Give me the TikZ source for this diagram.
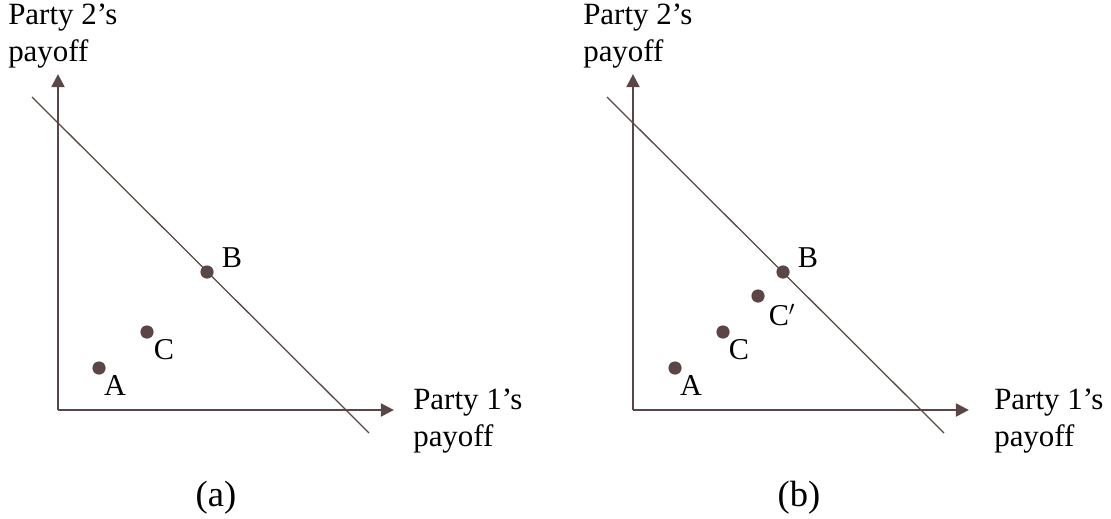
\documentclass[tikz,border=0pt]{standalone}
\usepackage{fontspec}
\setmainfont{Liberation Serif}
\usetikzlibrary{positioning, arrows.meta}
\definecolor{axisbrown}{RGB}{90,70,70}

\begin{document}
\begin{tikzpicture}[
    x=0.025cm, y=-0.025cm,
    axis/.style={draw=axisbrown, line width=2.1pt, -{Triangle[length=0.33cm, width=0.32cm]}},
    budget/.style={draw=axisbrown, line width=0.9pt},
    dot/.style={circle, fill=axisbrown, inner sep=0pt, minimum size=0.33cm},
    lbl/.style={inner sep=0pt, font=\fontsize{21.5}{26}\selectfont},
    axlbl/.style={inner sep=0pt, align=left, anchor=north west, font=\fontsize{22}{26}\selectfont},
    caption/.style={inner sep=0pt, font=\fontsize{26}{30}\selectfont}
]
\useasboundingbox (0,0) rectangle (1111,519);

% Panel (a)
\coordinate (oa) at (58,410);
\coordinate (ya) at (58,74);
\coordinate (xa) at (394,410);
\draw[axis] (oa) -- (ya);
\draw[axis] (oa) -- (xa);
\coordinate (la1) at (32,97);
\coordinate (la2) at (369,433);
\draw[budget] (la1) -- (la2);
\node[axlbl] (ya label) at (8,4) {Party 2’s\\payoff};
\node[axlbl] (xa label) at (413,389) {Party 1’s\\payoff};
\node[dot] (Aa) at (99,368) {};
\node[dot] (Ca) at (147,332) {};
\node[dot] (Ba) at (207,272) {};
\node[lbl] (Aa label) at (115,386) {A};
\node[lbl] (Ca label) at (164,350) {C};
\node[lbl] (Ba label) at (232,258) {B};
\node[caption] (cap a) at (216,498) {(a)};

% Panel (b)
\coordinate (ob) at (633,410);
\coordinate (yb) at (633,74);
\coordinate (xb) at (969,410);
\draw[axis] (ob) -- (yb);
\draw[axis] (ob) -- (xb);
\coordinate (lb1) at (607,97);
\coordinate (lb2) at (944,433);
\draw[budget] (lb1) -- (lb2);
\node[axlbl] (yb label) at (583,4) {Party 2’s\\payoff};
\node[axlbl] (xb label) at (994,389) {Party 1’s\\payoff};
\node[dot] (Ab) at (675,368) {};
\node[dot] (Cb) at (723,332) {};
\node[dot] (Cpb) at (758,296) {};
\node[dot] (Bb) at (783,272) {};
\node[lbl] (Ab label) at (691,386) {A};
\node[lbl] (Cb label) at (739,350) {C};
\node[lbl] (Cpb label) at (782,315) {C$'$};
\node[lbl] (Bb label) at (808,258) {B};
\node[caption] (cap b) at (799,498) {(b)};

\end{tikzpicture}
\end{document}
